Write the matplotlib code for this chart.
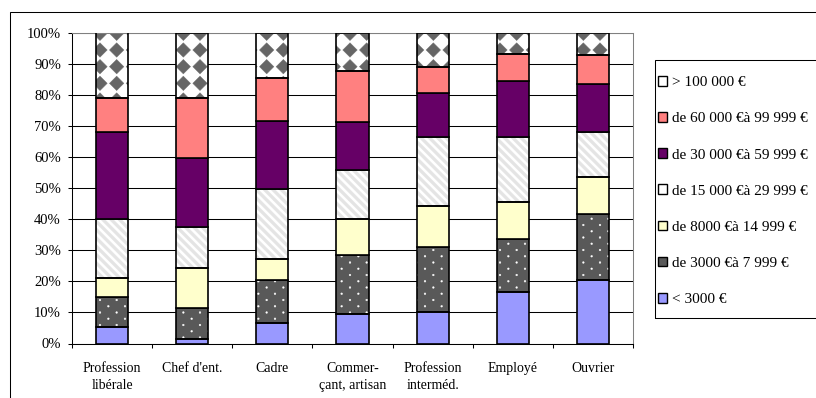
import numpy as np
import matplotlib
matplotlib.use("Agg")
import matplotlib.pyplot as plt
from matplotlib import hatch as mhatch
from matplotlib.path import Path
from matplotlib.patches import Rectangle, Patch

# ---------------- data ----------------
categories = ["Profession\nlibérale", "Chef d'ent.", "Cadre", "Commer-\nçant, artisan",
              "Profession\ninterméd.", "Employé", "Ouvrier"]
series_labels = ["< 3000 €", "de 3000 €à 7 999 €", "de 8000 €à 14 999 €",
                 "de 15 000 €à 29 999 €", "de 30 000 €à 59 999 €",
                 "de 60 000 €à 99 999 €", "> 100 000 €"]
s_lt3000 = [5.4, 1.3, 6.6, 9.6, 10.2, 16.6, 20.4]
s_3000_7999 = [9.4, 10.0, 13.8, 18.8, 20.8, 16.9, 21.4]
s_8000_14999 = [6.4, 13.1, 6.7, 11.6, 13.3, 12.1, 11.8]
s_15000_29999 = [18.7, 13.1, 22.7, 15.9, 22.0, 20.7, 14.5]
s_30000_59999 = [28.2, 22.0, 21.7, 15.2, 14.1, 18.1, 15.3]
s_60000_99999 = [10.7, 19.5, 13.9, 16.6, 8.6, 8.8, 9.3]
s_gt100000 = [21.2, 21.0, 14.6, 12.3, 11.0, 6.8, 7.3]
yticks = [0, 10, 20, 30, 40, 50, 60, 70, 80, 90, 100]
ytick_labels = ["0%", "10%", "20%", "30%", "40%", "50%", "60%", "70%", "80%", "90%", "100%"]

series = [s_lt3000, s_3000_7999, s_8000_14999, s_15000_29999,
          s_30000_59999, s_60000_99999, s_gt100000]

# styles: (facecolor, hatch, hatchcolor, legend facecolor)
styles = [
    ("#9999FF", None, None, "#9999FF"),
    ("#595959", ".", "#FFFFFF", "#595959"),
    ("#FFFFCC", None, None, "#FFFFCC"),
    ("#FFFFFF", "\\", "#E4E4E4", "#FFFFFF"),
    ("#660066", None, None, "#660066"),
    ("#FF8080", None, None, "#FF8080"),
    ("#FFFFFF", "*", "#666666", "#FFFFFF"),
]


# ---------------- custom hatch patterns ----------------
class _Lattice(mhatch.HatchPatternBase):
    char = "*"
    nc, nr, stagger = 6, 6, False
    sx, sy = 0.07, 0.07
    base = Path.unit_regular_polygon(4)

    def __init__(self, hatch, density):
        self.num_vertices = 0
        if hatch.count(self.char) > 0:
            pts = []
            for r in range(self.nr + 1):
                y = r / self.nr
                if self.stagger and r % 2:
                    xs = (np.arange(self.nc) + 0.5) / self.nc
                else:
                    xs = np.arange(self.nc + 1) / self.nc
                pts += [(x, y) for x in xs]
            self.centers = np.array(pts)
            self.verts = self.base.vertices * [self.sx, self.sy]
            self.pcodes = self.base.codes
            self.num_vertices = len(pts) * len(self.verts)

    def set_vertices_and_codes(self, vertices, codes):
        k = len(self.verts)
        for i, (x, y) in enumerate(self.centers):
            vertices[i * k:(i + 1) * k] = self.verts + [x, y]
            codes[i * k:(i + 1) * k] = self.pcodes


class DiamondHatch(_Lattice):
    char = "*"
    nc, nr, stagger = 6, 6, False
    sx, sy = 0.072, 0.072
    base = Path.unit_regular_polygon(4)


class DotHatch(_Lattice):
    char = "."
    nc, nr, stagger = 6, 16, True
    sx, sy = 0.009, 0.009
    base = Path.unit_regular_polygon(8)


class BandHatch(mhatch.HatchPatternBase):
    """Wide filled downward-diagonal bands."""
    n = 12
    h = 0.24

    def __init__(self, hatch, density):
        self.num_vertices = 0
        if hatch.count("\\") > 0:
            self.num_vertices = (2 * self.n + 1) * 5

    def set_vertices_and_codes(self, vertices, codes):
        n, h = self.n, self.h / self.n
        k = 0
        for i in range(-n, n + 1):
            x0 = i / n
            quad = [(x0 - h, 1), (x0 + h, 1), (x0 + 1 + h, 0), (x0 + 1 - h, 0), (x0 - h, 1)]
            vertices[k:k + 5] = quad
            codes[k:k + 5] = [Path.MOVETO, Path.LINETO, Path.LINETO, Path.LINETO,
                              Path.CLOSEPOLY]
            k += 5


mhatch._hatch_types[mhatch._hatch_types.index(mhatch.Stars)] = DiamondHatch
mhatch._hatch_types[mhatch._hatch_types.index(mhatch.SmallFilledCircles)] = DotHatch
mhatch._hatch_types[mhatch._hatch_types.index(mhatch.SouthEastHatch)] = BandHatch

# ---------------- figure ----------------
plt.rcParams["font.family"] = ["Liberation Serif", "DejaVu Serif"]
plt.rcParams["font.size"] = 10
plt.rcParams["hatch.linewidth"] = 0.3

W, H = 816, 398
fig = plt.figure(figsize=(W / 100, H / 100), dpi=100)
ax = fig.add_axes([72 / W, 1 - 343.5 / H, (633 - 72) / W, (343.5 - 32.5) / H])

x = np.arange(len(categories))
bw = 0.4
bottom = np.zeros(len(categories))
handles = []
for vals, (fc, hatch, hc, lfc), lab in zip(series, styles, series_labels):
    vals = np.array(vals)
    if hatch:
        ax.bar(x, vals, bw, bottom=bottom, color=fc, hatch=hatch,
               edgecolor=hc, linewidth=0, zorder=2)
        ax.bar(x, vals, bw, bottom=bottom, facecolor="none", edgecolor="black",
               linewidth=1.2, zorder=3)
    else:
        ax.bar(x, vals, bw, bottom=bottom, color=fc, edgecolor="black",
               linewidth=1.2, zorder=3)
    handles.append((Patch(facecolor=lfc, edgecolor="black", linewidth=1.0), lab))
    bottom = bottom + vals

ax.set_xlim(-0.5, len(categories) - 0.5)
ax.set_ylim(0, 100)
ax.set_yticks(yticks)
ax.set_yticklabels(ytick_labels, fontsize=10.5)
ax.yaxis.grid(True, color="black", linewidth=0.75)
ax.set_axisbelow(True)
ax.set_xticks(x)
ax.set_xticklabels(categories, linespacing=1.4)
ax.set_xticks(np.arange(len(categories) + 1) - 0.5, minor=True)
ax.tick_params(axis="x", which="major", length=0, pad=13)
ax.tick_params(axis="x", which="minor", length=3, width=0.75, direction="out")
ax.tick_params(axis="y", length=3, width=0.75, direction="out", pad=5)
for s in ["left", "bottom"]:
    ax.spines[s].set_color("black")
    ax.spines[s].set_linewidth(0.75)
for s in ["top", "right"]:
    ax.spines[s].set_color("#808080")
    ax.spines[s].set_linewidth(0.75)

# legend (top to bottom reversed order)
hl = handles[::-1]
leg = fig.legend([h for h, _ in hl], [l for _, l in hl], loc="upper left",
                 bbox_to_anchor=(658 / W, 1 - 76 / H), frameon=False,
                 borderpad=0, borderaxespad=0, labelspacing=1.50,
                 handlelength=0.6, handleheight=0.6, handletextpad=0.3,
                 fontsize=11)

# legend frame and outer chart frame
fig.patches.append(Rectangle((655 / W, 1 - 318 / H), 0.5, (318 - 60) / H,
                             transform=fig.transFigure, fill=False,
                             edgecolor="black", linewidth=0.75))
fig.patches.append(Rectangle((10 / W, -0.2), 1.2, 1.2 - 11.5 / H,
                             transform=fig.transFigure, fill=False,
                             edgecolor="black", linewidth=0.75))

fig.savefig("out.png", dpi=100)
